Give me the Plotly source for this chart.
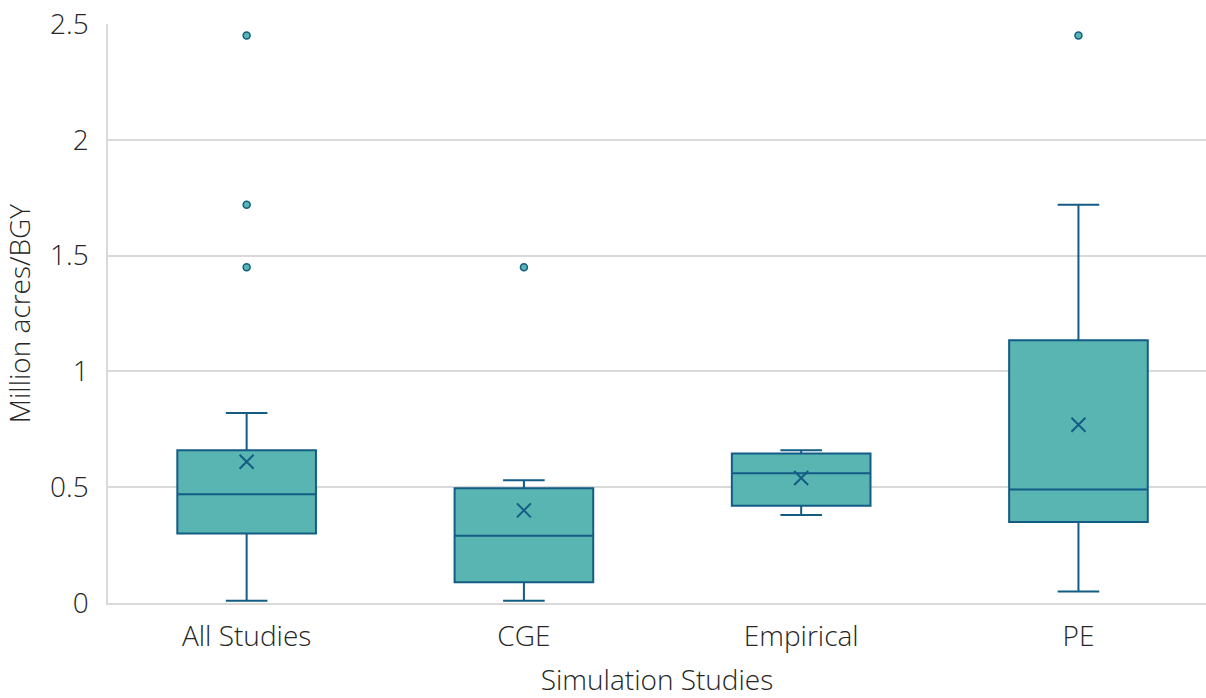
import plotly.graph_objects as go

# Summary statistics per study group (million acres per billion gallons)
categories = ["All Studies", "CGE", "Empirical", "PE"]
lower_whisker = [0.01, 0.01, 0.38, 0.05]
q1_values = [0.30, 0.09, 0.42, 0.35]
medians = [0.47, 0.29, 0.56, 0.49]
q3_values = [0.66, 0.495, 0.645, 1.135]
upper_whisker = [0.82, 0.53, 0.66, 1.72]
means = [0.61, 0.40, 0.54, 0.77]

outlier_groups = ["All Studies", "All Studies", "All Studies", "CGE", "PE"]
outlier_values = [2.45, 1.72, 1.45, 1.45, 2.45]

y_ticks = [0, 0.5, 1, 1.5, 2, 2.5]
y_tick_text = ["0", "0.5", "1", "1.5", "2", "2.5"]

FILL = "#59B5B1"
LINE = "#135C85"
FONT = "'Open Sans', Lato, sans-serif"
TEXT = "#262626"
FONT_SIZE = 28

fig = go.Figure()

fig.add_trace(go.Box(
    x=categories,
    q1=q1_values,
    median=medians,
    q3=q3_values,
    lowerfence=lower_whisker,
    upperfence=upper_whisker,
    boxpoints=False,
    fillcolor=FILL,
    line=dict(color=LINE, width=2),
    width=0.5,
    whiskerwidth=0.3,
    showlegend=False,
    hoverinfo="skip",
))

fig.add_trace(go.Scatter(
    x=categories,
    y=means,
    mode="markers",
    marker=dict(symbol="x-thin", size=14, line=dict(color=LINE, width=2)),
    showlegend=False,
))

fig.add_trace(go.Scatter(
    x=outlier_groups,
    y=outlier_values,
    mode="markers",
    marker=dict(symbol="circle", size=7, color=FILL, line=dict(color=LINE, width=1.5)),
    showlegend=False,
))

text_font = dict(family=FONT, size=FONT_SIZE, color=TEXT, weight=300)

fig.update_layout(
    width=1206,
    height=698,
    margin=dict(l=108, r=0, t=24, b=95),
    paper_bgcolor="white",
    plot_bgcolor="white",
    font=text_font,
    xaxis=dict(
        type="category",
        categoryorder="array",
        categoryarray=categories,
        range=[-0.5, 3.46],
        showgrid=False,
        showline=True,
        linecolor="#d9d9d9",
        linewidth=1.5,
        ticks="",
        ticklabelstandoff=8,
        tickfont=text_font,
        title=dict(text="Simulation Studies", font=text_font, standoff=22),
    ),
    yaxis=dict(
        range=[0, 2.5],
        tickvals=y_ticks,
        ticktext=y_tick_text,
        showgrid=True,
        gridcolor="#d9d9d9",
        gridwidth=1.5,
        zeroline=False,
        showline=True,
        linecolor="#d9d9d9",
        linewidth=1.5,
        ticks="",
        ticklabelstandoff=12,
        tickfont=text_font,
        title=dict(text="Million acres/BGY", font=text_font, standoff=12),
    ),
)

fig.write_html("out.html")
